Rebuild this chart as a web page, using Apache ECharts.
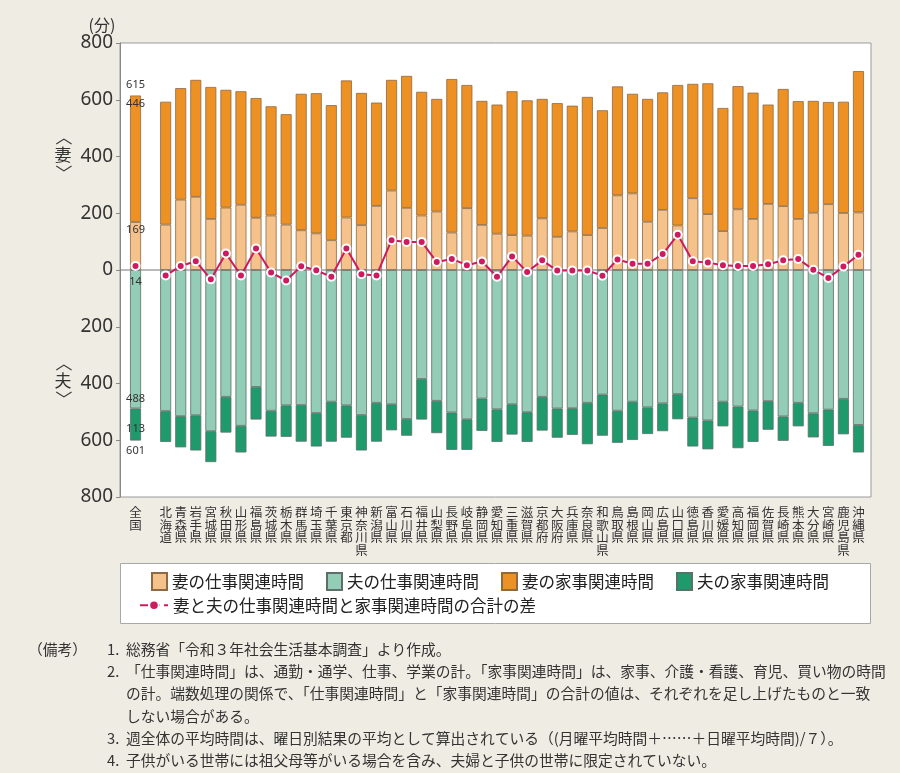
<!DOCTYPE html>
<html><head><meta charset="utf-8">
<script src="https://cdn.jsdelivr.net/npm/echarts@6/dist/echarts.min.js"></script>
<style>html,body{margin:0;padding:0;background:#efece4;} #c{width:900px;height:773px;}</style>
</head><body><div id="c"></div>
<script>
const prefectures = ['北海道','青森県','岩手県','宮城県','秋田県','山形県','福島県','茨城県','栃木県','群馬県','埼玉県','千葉県','東京都','神奈川県','新潟県','富山県','石川県','福井県','山梨県','長野県','岐阜県','静岡県','愛知県','三重県','滋賀県','京都府','大阪府','兵庫県','奈良県','和歌山県','鳥取県','島根県','岡山県','広島県','山口県','徳島県','香川県','愛媛県','高知県','福岡県','佐賀県','長崎県','熊本県','大分県','宮崎県','鹿児島県','沖縄県'];
const categories = ['全国', ''].concat(prefectures);

// 妻の仕事関連時間
const wifeWork = [169, null, 160,248,258,180,220,230,184,192,160,140,129,105,185,158,226,280,219,192,206,132,218,159,128,123,121,182,117,136,123,148,263,270,170,212,157,253,197,137,214,180,233,225,180,202,232,201,203];
// 妻の家事関連時間
const wifeHouse = [446, null, 433,393,412,465,415,400,422,385,389,481,494,476,483,466,364,390,465,436,397,541,434,437,455,507,477,421,471,443,487,415,384,351,433,414,495,403,461,434,434,445,350,413,415,394,360,392,498];
// 夫の仕事関連時間
const husbandWork = [488, null, 497,515,512,568,447,549,412,496,477,476,504,464,477,511,468,473,525,384,461,502,526,453,491,473,501,447,488,487,468,439,496,464,484,470,437,520,530,464,481,495,462,516,468,505,492,454,546];
// 夫の家事関連時間
const husbandHouse = [113, null, 109,110,124,109,126,94,115,91,111,129,118,141,114,125,137,92,59,143,114,132,108,114,115,107,105,119,103,94,146,145,113,135,94,98,89,102,102,87,147,111,101,86,83,85,128,125,97];
// 妻と夫の仕事関連時間と家事関連時間の合計の差
const diff = [14, null, -19,14,31,-33,58,-19,76,-9,-37,13,-1,-24,76,-15,-19,105,99,99,28,39,17,30,-24,48,-7,34,-2,-2,-2,-20,37,22,22,56,124,31,26,17,14,14,20,34,39,1,-28,12,54];

const yTicks = [-800,-600,-400,-200,0,200,400,600,800];

const names = ['妻の仕事関連時間','夫の仕事関連時間','妻の家事関連時間','夫の家事関連時間','妻と夫の仕事関連時間と家事関連時間の合計の差'];
const notes = [
  ['（備考）', '1.', '総務省「令和３年社会生活基本調査」より作成。'],
  ['', '2.', '「仕事関連時間」は、通勤・通学、仕事、学業の計。「家事関連時間」は、家事、介護・看護、育児、買い物の時間'],
  ['', '', 'の計。端数処理の関係で、「仕事関連時間」と「家事関連時間」の合計の値は、それぞれを足し上げたものと一致'],
  ['', '', 'しない場合がある。'],
  ['', '3.', '週全体の平均時間は、曜日別結果の平均として算出されている（(月曜平均時間＋……＋日曜平均時間)/７）。'],
  ['', '4.', '子供がいる世帯には祖父母等がいる場合を含み、夫婦と子供の世帯に限定されていない。']
];

const C = {lw:'#f6c28b', ow:'#ee9124', lh:'#93ccb7', gh:'#1f9a6d', line:'#cf1a60'};
const lblFont = {fontSize: 11, color: '#333', fontFamily: 'Noto Sans'};
const orangeBorder = '#8c6a44';
const greenBorder = '#5d7068';

const chart = echarts.init(document.getElementById('c'), null, {renderer: 'canvas'});

const wwData = wifeWork.map((v,i) => i === 0 ? {value: v, label: Object.assign({show: true, position: 'insideTop', distance: 2, formatter: String(v)}, lblFont)} : v);
const whData = wifeHouse.map((v,i) => i === 0 ? {value: v, label: Object.assign({show: true, position: 'top', distance: -18, lineHeight: 19, formatter: (wifeWork[0] + v) + '\n' + v}, lblFont)} : v);
const hwData = husbandWork.map((v,i) => v == null ? null : (i === 0 ? {value: -v, label: Object.assign({show: true, position: 'insideBottom', distance: 4, formatter: String(v)}, lblFont)} : -v));
const hhData = husbandHouse.map((v,i) => v == null ? null : (i === 0 ? {value: -v, label: Object.assign({show: true, position: 'bottom', distance: -23, lineHeight: 22, formatter: v + '\n' + (husbandWork[0] + v)}, lblFont)} : -v));
const dData = diff.map((v,i) => i === 0 ? {value: v, label: Object.assign({show: true, position: 'bottom', distance: 5, formatter: String(v)}, lblFont)} : v);

const barCommon = {type: 'bar', stack: 'all', barWidth: 11, z: 2};
const noteFont = '14.75px "Noto Sans CJK JP"';
const sideFont = '17px "Noto Sans CJK JP"';

function sideLabel(ch, cy) {
  return [
    {type: 'text', x: 63, y: cy - 18, rotation: -Math.PI / 2, style: {text: '〈', x: 0, y: 0, textAlign: 'center', textVerticalAlign: 'middle', font: sideFont, fill: '#333'}},
    {type: 'text', x: 63, y: cy, style: {text: ch, x: 0, y: 0, textAlign: 'center', textVerticalAlign: 'middle', font: sideFont, fill: '#333'}},
    {type: 'text', x: 63, y: cy + 18, rotation: -Math.PI / 2, style: {text: '〉', x: 0, y: 0, textAlign: 'center', textVerticalAlign: 'middle', font: sideFont, fill: '#333'}}
  ];
}

const graphics = [
  {id: 'frame', type: 'rect', z: -5, shape: {x: 120, y: 43, width: 751, height: 454}, style: {fill: '#fff', stroke: '#9a9a9a', lineWidth: 1}},
  {id: 'legbox', type: 'rect', z: -5, shape: {x: 120.5, y: 563.5, width: 750, height: 60}, style: {fill: '#fff', stroke: '#a8a8a8', lineWidth: 1}},
  {id: 'unit', type: 'text', style: {text: '(分)', x: 102, y: 25, textAlign: 'center', textVerticalAlign: 'middle', font: '16px "Noto Sans CJK JP"', fill: '#333'}}
].concat(sideLabel('妻', 155), sideLabel('夫', 381));

notes.forEach((n, k) => {
  const y = 649 + k * 22.3;
  if (n[0]) graphics.push({type: 'text', style: {text: n[0], x: 28, y: y, textVerticalAlign: 'middle', font: noteFont, fill: '#333'}});
  if (n[1]) graphics.push({type: 'text', style: {text: n[1], x: 107, y: y, textVerticalAlign: 'middle', font: noteFont, fill: '#333'}});
  graphics.push({type: 'text', style: {text: n[2], x: 126, y: y, textVerticalAlign: 'middle', font: noteFont, fill: '#333'}});
});

const option = {
  backgroundColor: '#efece4',
  animation: false,
  grid: {left: 128, right: 34, top: 43, bottom: 276, containLabel: false},
  legend: [
    {data: names.slice(0,4), left: 151, top: 572, padding: 0, itemWidth: 15, itemHeight: 17, itemGap: 22, icon: 'rect',
     textStyle: {fontSize: 16.5, color: '#222', fontFamily: 'Noto Sans CJK JP'}},
    {data: [names[4]], left: 139, top: 597, padding: 0, itemWidth: 28, itemHeight: 12,
     lineStyle: {type: 'dashed', width: 2},
     textStyle: {fontSize: 16.5, color: '#222', fontFamily: 'Noto Sans CJK JP'}}
  ],
  xAxis: {
    type: 'category', data: categories,
    axisLine: {show: false}, axisTick: {show: false},
    axisLabel: {interval: 0, margin: 9, fontSize: 12.5, lineHeight: 12.5, color: '#333', fontFamily: 'Noto Sans CJK JP',
      formatter: v => v.split('').join('\n')}
  },
  yAxis: {
    type: 'value', min: yTicks[0], max: yTicks[yTicks.length-1], interval: 200, offset: 8,
    axisLine: {show: true, lineStyle: {color: '#888'}},
    axisTick: {show: true, inside: false, length: 4, lineStyle: {color: '#888'}},
    splitLine: {show: false},
    axisLabel: {margin: 7, fontSize: 19, color: '#333', fontFamily: 'Noto Sans', formatter: v => String(Math.abs(v))}
  },
  series: [
    Object.assign({}, barCommon, {name: names[0], data: wwData, itemStyle: {color: C.lw, borderColor: orangeBorder, borderWidth: 0.8}}),
    Object.assign({}, barCommon, {name: names[2], data: whData, itemStyle: {color: C.ow, borderColor: orangeBorder, borderWidth: 0.8}}),
    Object.assign({}, barCommon, {name: names[1], data: hwData, itemStyle: {color: C.lh, borderColor: greenBorder, borderWidth: 0.8}}),
    Object.assign({}, barCommon, {name: names[3], data: hhData, itemStyle: {color: C.gh, borderColor: greenBorder, borderWidth: 0.8}}),
    {type: 'line', name: names[4], data: dData, z: 6, connectNulls: false,
     symbol: 'circle', symbolSize: 8,
     lineStyle: {color: C.line, width: 2},
     itemStyle: {color: C.line, borderColor: '#fff', borderWidth: 2}}
  ],
  graphic: graphics
};
chart.setOption(option);
const y0 = chart.convertToPixel({yAxisIndex: 0}, 0);
chart.setOption({graphic: [{id: 'zero', type: 'line', z: 3, shape: {x1: 120, y1: y0, x2: 871, y2: y0}, style: {stroke: '#777', lineWidth: 1.2}}]});
</script>
</body></html>
